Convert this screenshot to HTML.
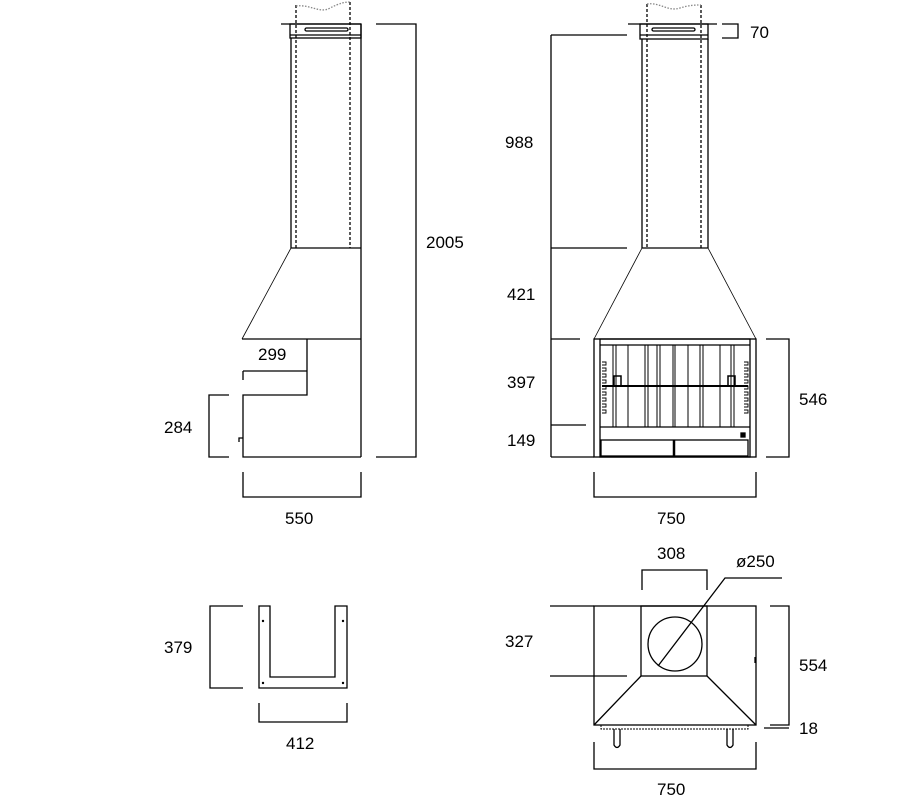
<!DOCTYPE html>
<html><head><style>
html,body{margin:0;padding:0;background:#fff;}
svg{display:block;}
text{font-family:"Liberation Sans","DejaVu Sans",sans-serif;font-size:17px;fill:#000;stroke:none;}
</style></head><body>
<svg width="908" height="802" viewBox="0 0 908 802" xmlns="http://www.w3.org/2000/svg" fill="none" stroke="#000" stroke-width="1.3">
<!-- LEFT SIDE VIEW -->
<line x1="281" y1="24" x2="361" y2="24"/>
<rect x="290" y="24" width="71" height="14"/>
<line x1="290" y1="35" x2="361" y2="35"/>
<rect x="305" y="28" width="43" height="3" rx="1.5"/>
<line x1="291" y1="38" x2="291" y2="248"/>
<line x1="361" y1="24" x2="361" y2="457"/>
<path d="M296 5 V248 M350 2 V248" stroke-dasharray="3,2"/>
<path d="M296 6 C310 4 320 14 330 8 C340 3 345 2 350 2" stroke="#888" stroke-dasharray="1.5,1.5"/>
<line x1="291" y1="248" x2="361" y2="248"/>
<line x1="291" y1="248" x2="242" y2="339" stroke-width="0.8"/>
<line x1="242" y1="339" x2="361" y2="339"/>
<path d="M307 339 V395 H243 V457 H361"/>
<path d="M243 371 H307 M243 371 V380 M243 438 H239 V442"/>
<path d="M376 24 H416 V457 H376"/>
<path d="M229 395 H209 V457 H229"/>
<path d="M243 472 V497 H361 V472"/>
<text x="258" y="360">299</text>
<text x="426" y="248">2005</text>
<text x="164" y="433">284</text>
<text x="285" y="524">550</text>

<!-- FRONT VIEW -->
<line x1="628" y1="24" x2="717" y2="24"/>
<rect x="640" y="24" width="68" height="15"/>
<line x1="640" y1="35" x2="708" y2="35"/>
<rect x="652" y="28" width="43" height="3" rx="1.5"/>
<line x1="642" y1="39" x2="642" y2="248"/>
<line x1="708" y1="39" x2="708" y2="248"/>
<path d="M647 4 V248 M701 5 V248" stroke-dasharray="3,2"/>
<path d="M647 4 C660 2 668 12 680 8 C690 5 695 5 701 5" stroke="#888" stroke-dasharray="1.5,1.5"/>
<line x1="642" y1="248" x2="708" y2="248"/>
<line x1="642" y1="248" x2="594" y2="339" stroke-width="0.8"/>
<line x1="708" y1="248" x2="756" y2="339" stroke-width="0.8"/>
<rect x="594" y="339" width="162" height="118"/>
<rect x="600" y="339" width="150" height="118"/>
<line x1="600" y1="345" x2="750" y2="345"/>
<g stroke-width="1">
<path d="M613 345 V427 M616 345 V427 M628 345 V427 M645 345 V427 M648 345 V427 M657 345 V427 M660 345 V427 M673 345 V427 M675 345 V427 M688 345 V427 M700 345 V427 M703 345 V427 M720 345 V427 M731 345 V427 M734 345 V427"/>
</g>
<line x1="602" y1="386" x2="748" y2="386" stroke-width="2"/>
<path d="M614 386 V376 H621 V386 M728 386 V376 H735 V386" stroke-width="1.5"/>
<path d="M602 362 h4 v3 h-4 m0 3 h4 v3 h-4 m0 3 h4 v3 h-4 m0 3 h4 v3 h-4 m0 3 h4 v3 h-4 m0 3 h4 v3 h-4 m0 3 h4 v3 h-4 m0 3 h4 v3 h-4 m0 3 h4 v3 h-4" stroke-width="0.9"/>
<path d="M744 362 h4 v3 h-4 m0 3 h4 v3 h-4 m0 3 h4 v3 h-4 m0 3 h4 v3 h-4 m0 3 h4 v3 h-4 m0 3 h4 v3 h-4 m0 3 h4 v3 h-4 m0 3 h4 v3 h-4 m0 3 h4 v3 h-4" stroke-width="0.9"/>
<line x1="600" y1="427" x2="750" y2="427"/>
<rect x="601" y="440" width="147" height="16"/>
<line x1="674" y1="440" x2="674" y2="456" stroke-width="2.5"/>
<rect x="741" y="433" width="4" height="4" fill="#000"/>
<path d="M551 35 H627 M551 35 V457 M551 248 H627 M551 339 H580 M551 425 H586 M551 457 H594"/>
<path d="M722 24 H738 V38 H722"/>
<path d="M766 339 H789 V457 H766"/>
<path d="M594 472 V497 H756 V472"/>
<text x="750" y="38">70</text>
<text x="505" y="148">988</text>
<text x="507" y="300">421</text>
<text x="507" y="388">397</text>
<text x="507" y="446">149</text>
<text x="799" y="405">546</text>
<text x="657" y="524">750</text>

<!-- U PLAN -->
<path d="M259 606 H270 V677 H335 V606 H347 V688 H259 Z"/>
<g fill="#000" stroke="none"><circle cx="263" cy="621" r="1.2"/><circle cx="343" cy="621" r="1.2"/><circle cx="263" cy="683" r="1.2"/><circle cx="343" cy="683" r="1.2"/></g>
<path d="M243 606 H210 V688 H243"/>
<path d="M259 703 V722 H347 V703"/>
<text x="164" y="653">379</text>
<text x="286" y="749">412</text>

<!-- TOP VIEW -->
<rect x="594" y="606" width="162" height="119"/>
<rect x="641" y="606" width="66" height="70"/>
<circle cx="675" cy="644" r="27"/>
<path d="M658 666 L725 578 H782"/>
<path d="M641 676 L594 725 M707 676 L756 725"/>
<rect x="601" y="725" width="147" height="4" stroke-width="1" stroke-dasharray="2,1"/>
<path d="M614 729 V745 Q617 750 620 745 V729 M727 729 V745 Q730 750 733 745 V729"/>
<line x1="755" y1="657" x2="755" y2="663"/>
<path d="M642 590 V570 H707 V590"/>
<path d="M550 606 H594 M550 676 H627"/>
<path d="M770 606 H789 V725 H770 M764 728 H789"/>
<path d="M594 742 V769 H756 V742"/>
<text x="657" y="559">308</text>
<text x="736" y="567">ø250</text>
<text x="505" y="647">327</text>
<text x="799" y="671">554</text>
<text x="799" y="734">18</text>
<text x="657" y="795">750</text>
</svg>
</body></html>
